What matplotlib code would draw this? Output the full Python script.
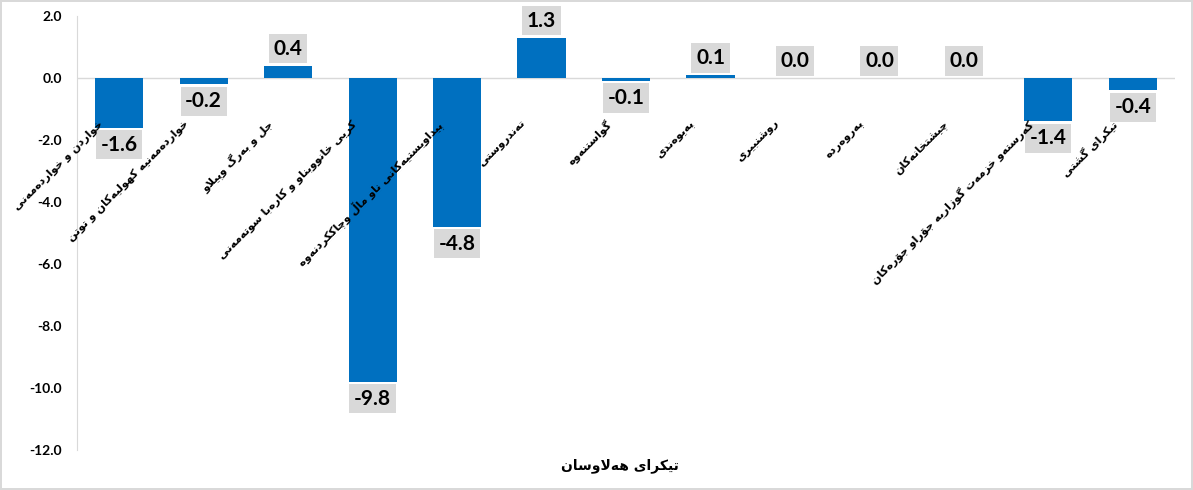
import numpy as np
import matplotlib
matplotlib.use('Agg')
import matplotlib.pyplot as plt

# Data
categories = [
    'خواردن و خواردەمەنی',
    'خواردەمەنیە کهولیەکان و توتن',
    'جل و بەرگ وپێلاو',
    'کرێی خانووبناو و کارەبا سوتەمەنی',
    'پێداویستیەکانی ناو ماڵ وچاککردنەوە',
    'تەندروستی',
    'گواستنەوە',
    'پەیوەندی',
    'روشنبیری',
    'پەروەردە',
    'چێشتخانەکان',
    'کەرستەو خزمەت گوزاریە جۆراو جۆرەکان',
    'تێکرای گشتی',
]
values = [-1.6, -0.2, 0.4, -9.8, -4.8, 1.3, -0.1, 0.1, 0.0, 0.0, 0.0, -1.4, -0.4]
xlabel_text = 'تێکرای هەڵاوسان'
yticks = np.arange(-12, 2.1, 2)

# Minimal Arabic-script shaping (matplotlib has no complex text layout)
DUAL = {
    'ب': (0xFE8F, 0xFE90, 0xFE91, 0xFE92), 'پ': (0xFB56, 0xFB57, 0xFB58, 0xFB59),
    'ت': (0xFE95, 0xFE96, 0xFE97, 0xFE98), 'ج': (0xFE9D, 0xFE9E, 0xFE9F, 0xFEA0),
    'چ': (0xFB7A, 0xFB7B, 0xFB7C, 0xFB7D), 'خ': (0xFEA5, 0xFEA6, 0xFEA7, 0xFEA8),
    'س': (0xFEB1, 0xFEB2, 0xFEB3, 0xFEB4), 'ش': (0xFEB5, 0xFEB6, 0xFEB7, 0xFEB8),
    'ک': (0xFB8E, 0xFB8F, 0xFB90, 0xFB91), 'گ': (0xFB92, 0xFB93, 0xFB94, 0xFB95),
    'ل': (0xFEDD, 0xFEDE, 0xFEDF, 0xFEE0), 'ڵ': (0x06B5, 0xFEDE, 0xFEDF, 0xFEE0),
    'م': (0xFEE1, 0xFEE2, 0xFEE3, 0xFEE4), 'ن': (0xFEE5, 0xFEE6, 0xFEE7, 0xFEE8),
    'ه': (0xFEE9, 0xFEEA, 0xFEEB, 0xFEEC), 'ی': (0xFBFC, 0xFBFD, 0xFBFE, 0xFBFF),
    'ێ': (0x06CE, 0xFBFD, 0xFBFE, 0xFBFF),
}
RIGHT = {
    'ا': (0xFE8D, 0xFE8E), 'د': (0xFEA9, 0xFEAA), 'ر': (0xFEAD, 0xFEAE),
    'ڕ': (0x0695, 0x0695), 'ز': (0xFEAF, 0xFEB0), 'ژ': (0xFB8A, 0xFB8B),
    'و': (0xFEED, 0xFEEE), 'ۆ': (0xFBD9, 0xFBDA), 'ە': (0xFEE9, 0xFEEA),
}


def jtype(c):
    if c in DUAL:
        return 'D'
    if c in RIGHT:
        return 'R'
    return 'U'


def shape(s):
    out = []
    i = 0
    n = len(s)
    while i < n:
        c = s[i]
        prev = s[i - 1] if i > 0 else ' '
        joins_prev = jtype(prev) == 'D' and jtype(c) != 'U'
        if c in ('ل', 'ڵ') and i + 1 < n and s[i + 1] == 'ا':
            out.append(chr(0xFEFC if joins_prev else 0xFEFB))
            i += 2
            continue
        nxt = s[i + 1] if i + 1 < n else ' '
        if c in DUAL:
            joins_next = jtype(nxt) != 'U'
            iso, fin, ini, med = DUAL[c]
            if joins_prev and joins_next:
                f = med
            elif joins_prev:
                f = fin
            elif joins_next:
                f = ini
            else:
                f = iso
            out.append(chr(f))
        elif c in RIGHT:
            out.append(chr(RIGHT[c][1] if joins_prev else RIGHT[c][0]))
        else:
            out.append(c)
        i += 1
    return ''.join(reversed(out))


plt.rcParams['font.family'] = ['Lato', 'DejaVu Sans']

fig = plt.figure(figsize=(11.93, 4.9), dpi=100)
fig.patch.set_edgecolor('#D9D9D9')
fig.patch.set_linewidth(1.5)
ax = fig.add_axes([0.0645, 0.0816, 0.9205, 0.8857])

x = np.arange(len(values))
ax.bar(x, values, width=0.57, color='#0070C0', zorder=3)

ax.set_xlim(-0.5, len(values) - 0.5)
ax.set_ylim(-12, 2)
ax.set_yticks(yticks)
ax.set_yticklabels([f'{v:.1f}' for v in yticks], fontsize=10, fontweight='bold')
ax.tick_params(axis='y', length=0, pad=11)
ax.set_xticks([])

for s in ['top', 'right', 'bottom']:
    ax.spines[s].set_visible(False)
ax.spines['left'].set_color('#D9D9D9')
ax.axhline(0, color='#D9D9D9', lw=1, zorder=2)

# data labels
box = dict(boxstyle='square,pad=0.22', fc='#D9D9D9', ec='none')
for xi, v in zip(x, values):
    if v < 0:
        ax.annotate(f'{v:.1f}', (xi, v), xytext=(0, -5), textcoords='offset points',
                    ha='center', va='top', fontsize=15, fontweight='bold',
                    bbox=box, zorder=4)
    else:
        ax.annotate(f'{v:.1f}', (xi, v), xytext=(0, 5), textcoords='offset points',
                    ha='center', va='bottom', fontsize=15, fontweight='bold',
                    bbox=box, zorder=4)

# category labels, rotated, under the zero line
for xi, name in zip(x, categories):
    ax.text(xi - 0.25, -1.3, shape(name), rotation=45, rotation_mode='anchor',
            ha='right', va='top', fontsize=8, fontweight='bold',
            family=['DejaVu Sans'], zorder=5)

fig.text(0.52, 0.05, shape(xlabel_text), ha='center', va='center',
         fontsize=10, fontweight='bold', family=['DejaVu Sans'])

fig.savefig('out.png', dpi=100)
